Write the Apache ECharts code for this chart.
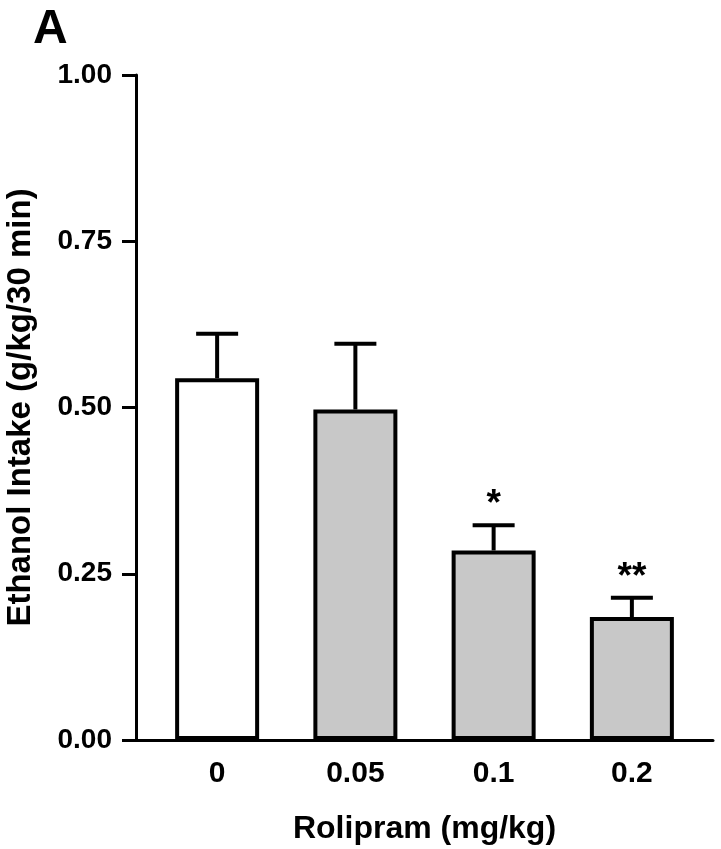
<!DOCTYPE html>
<html><head><meta charset="utf-8">
<script src="https://cdn.jsdelivr.net/npm/echarts@6/dist/echarts.min.js"></script>
<style>html,body{margin:0;padding:0;background:#fff}#c{width:721px;height:849px}</style>
</head><body><div id="c"></div>
<script>
const categories = ['0', '0.05', '0.1', '0.2'];
const means = [0.544, 0.497, 0.285, 0.185];
const sems = [0.067, 0.099, 0.038, 0.029];
const stars = ['', '', '*', '**'];
const yMin = 0, yMax = 1, yStep = 0.25;

const FONT = "'Liberation Sans', Arial, sans-serif";
const chart = echarts.init(document.getElementById('c'), null, {renderer: 'canvas'});
const errData = means.map((m, i) => [i, m, sems[i]]);

chart.setOption({
  animation: false,
  backgroundColor: '#fff',
  title: {
    text: 'A', left: 28, top: 1,
    textStyle: {fontFamily: FONT, fontWeight: 'bold', fontSize: 48, color: '#000'}
  },
  grid: [
    {left: 148, right: 20, top: 75, bottom: 109, containLabel: false, outerBoundsMode: 'none'},
    {left: 136, right: 8, top: 75, bottom: 109, containLabel: false, outerBoundsMode: 'none'}
  ],
  xAxis: [
    {
      type: 'category', gridIndex: 0, data: categories,
      axisLine: {show: false}, axisTick: {show: false},
      axisLabel: {fontFamily: FONT, fontWeight: 'bold', fontSize: 30, color: '#000', margin: 19},
      name: 'Rolipram (mg/kg)', nameLocation: 'middle', nameGap: 73,
      nameTextStyle: {fontFamily: FONT, fontWeight: 'bold', fontSize: 32, color: '#000'}
    },
    {
      type: 'value', gridIndex: 1, min: 0, max: 1,
      axisLine: {show: true, onZero: false, lineStyle: {color: '#000', width: 3}},
      axisTick: {show: false}, axisLabel: {show: false}, splitLine: {show: false}
    }
  ],
  yAxis: [
    {
      type: 'value', gridIndex: 0, min: yMin, max: yMax, interval: yStep, offset: 12,
      axisLine: {show: true, lineStyle: {color: '#000', width: 3}},
      axisTick: {show: true, length: 14, lineStyle: {color: '#000', width: 3}},
      axisLabel: {fontFamily: FONT, fontWeight: 'bold', fontSize: 28, color: '#000', margin: 24,
        formatter: v => v.toFixed(2)},
      splitLine: {show: false},
      name: 'Ethanol Intake (g/kg/30 min)', nameLocation: 'middle', nameGap: 99, nameRotate: 90,
      nameTextStyle: {fontFamily: FONT, fontWeight: 'bold', fontSize: 33, color: '#000'}
    },
    {type: 'value', gridIndex: 1, min: 0, max: 1, show: false}
  ],
  series: [
    {
      type: 'bar', xAxisIndex: 0, yAxisIndex: 0, data: means, barWidth: 84,
      itemStyle: {
        color: p => p.dataIndex === 0 ? '#ffffff' : '#c8c8c8',
        borderColor: '#000', borderWidth: 4
      },
      z: 3
    },
    {
      type: 'custom', xAxisIndex: 0, yAxisIndex: 0, data: errData, z: 2,
      renderItem: (params, api) => {
        const i = api.value(0), m = api.value(1), e = api.value(2);
        const base = api.coord([i, m]);
        const top = api.coord([i, m + e]);
        const half = 21;
        const children = [
          {type: 'line', shape: {x1: base[0], y1: base[1], x2: top[0], y2: top[1]}, style: {stroke: '#000', lineWidth: 4}},
          {type: 'line', shape: {x1: top[0] - half, y1: top[1], x2: top[0] + half, y2: top[1]}, style: {stroke: '#000', lineWidth: 4}}
        ];
        const s = stars[params.dataIndex];
        if (s) {
          children.push({type: 'text', x: top[0], y: top[1] - 20,
            style: {text: s, fill: '#000', font: 'bold 37px ' + FONT, textAlign: 'center', textVerticalAlign: 'middle'}});
        }
        return {type: 'group', children};
      }
    }
  ]
});
</script></body></html>
